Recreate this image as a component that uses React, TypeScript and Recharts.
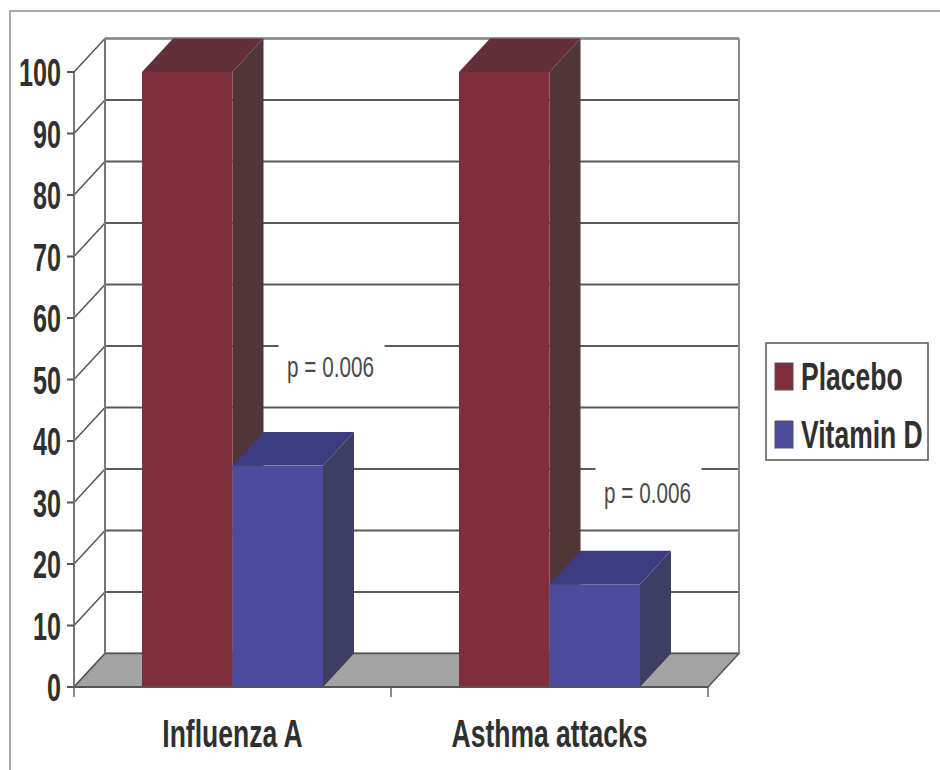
import React from 'react';
import {
  BarChart,
  Bar,
  XAxis,
  YAxis,
  CartesianGrid,
  Legend,
  ReferenceArea,
  ReferenceDot,
} from 'recharts';

const categories = ['Influenza A', 'Asthma attacks'];
const placeboValues = [100, 100];
const vitaminDValues = [36, 16.7];
const yTicks = [0, 10, 20, 30, 40, 50, 60, 70, 80, 90, 100];
const pLabels = ['p = 0.006', 'p = 0.006'];
const pLabelLevels = [52, 31.5];

const data = categories.map((category, i) => ({
  category,
  Placebo: placeboValues[i],
  'Vitamin D': vitaminDValues[i],
}));

// depth of the fake 3D box, in pixels
const DEPTH_X = 31;
const DEPTH_Y = -33.5;
const FONT = '"Liberation Sans", Arial, sans-serif';

// Text squeezed sideways, the narrow look the labels have
const NarrowText = ({ x, y, children, anchor = 'start', sx = 0.68, sy = 1, size = 39, weight = 'bold', fill = '#303030' }: any) => (
  <text
    transform={`translate(${x} ${y}) scale(${sx} ${sy})`}
    textAnchor={anchor}
    fontFamily={FONT}
    fontSize={size}
    fontWeight={weight}
    fill={fill}
  >
    {children}
  </text>
);

const YTick = ({ x, y, payload }: any) => (
  <NarrowText x={x - 4} y={y + 14} anchor="end" sx={0.645}>
    {payload.value}
  </NarrowText>
);

const XTick = ({ x, y, payload }: any) => (
  <NarrowText x={x} y={y + 52} anchor="middle">
    {payload.value}
  </NarrowText>
);

// Floor, back corners and the ticks between the categories
const Room = ({ x, y, width, height }: any) => {
  const bottom = y + height;
  const right = x + width;
  const floor = [
    [x, bottom],
    [x + DEPTH_X, bottom + DEPTH_Y],
    [right + DEPTH_X, bottom + DEPTH_Y],
    [right, bottom],
  ];
  return (
    <g>
      <polygon points={floor.join(' ')} fill="#a3a3a3" stroke="#555" strokeWidth={1.5} />
      <line x1={x + DEPTH_X} y1={y + DEPTH_Y} x2={right + DEPTH_X} y2={y + DEPTH_Y} stroke="#888" strokeWidth={2} />
      <line x1={x + DEPTH_X} y1={y + DEPTH_Y} x2={x + DEPTH_X} y2={bottom + DEPTH_Y} stroke="#777" strokeWidth={2} />
      <line x1={right + DEPTH_X} y1={y + DEPTH_Y} x2={right + DEPTH_X} y2={bottom + DEPTH_Y} stroke="#888" strokeWidth={2} />
      {[x, x + width / 2, right].map((tx) => (
        <line key={tx} x1={tx} y1={bottom} x2={tx} y2={bottom + 10} stroke="#666" strokeWidth={1.5} />
      ))}
    </g>
  );
};

// One gridline: the slanted part on the left wall, then across the back
const GridLine = ({ x1, y1, x2 }: any) => (
  <g>
    <line x1={x1} y1={y1} x2={x1 + DEPTH_X} y2={y1 + DEPTH_Y} stroke="#555" strokeWidth={1.5} />
    <line x1={x1 + DEPTH_X} y1={y1 + DEPTH_Y} x2={x2 + DEPTH_X} y2={y1 + DEPTH_Y} stroke="#5a5a5a" strokeWidth={2} />
  </g>
);

// Bar with a lit front and darker top and side faces
const Box = ({ x, y, width, height, front, top, side }: any) => {
  const topFace = [
    [x, y],
    [x + DEPTH_X, y + DEPTH_Y],
    [x + width + DEPTH_X, y + DEPTH_Y],
    [x + width, y],
  ];
  const sideFace = [
    [x + width, y],
    [x + width + DEPTH_X, y + DEPTH_Y],
    [x + width + DEPTH_X, y + height + DEPTH_Y],
    [x + width, y + height],
  ];
  return (
    <g>
      <polygon points={sideFace.join(' ')} fill={side} />
      <polygon points={topFace.join(' ')} fill={top} />
      <rect x={x} y={y} width={width} height={height} fill={front} />
    </g>
  );
};

// p value on a white patch that interrupts the gridline behind it
const PLabel = ({ cx, cy, text }: any) => (
  <g>
    <rect x={cx + 46} y={cy - 28} width={106} height={50} fill="#fff" />
    <NarrowText x={cx + 98} y={cy + 10} anchor="middle" size={30} sx={0.69} weight="normal" fill="#4a4a4a">
      {text}
    </NarrowText>
  </g>
);

const LegendBox = ({ payload }: any) => (
  <svg width={164} height={119} style={{ display: 'block' }}>
    <rect x={1} y={1} width={162} height={117} fill="#fff" stroke="#555" strokeWidth={1.5} />
    {(payload || []).map((entry: any, i: number) => (
      <g key={entry.value}>
        <rect x={10} y={21 + i * 58} width={18} height={27} fill={entry.color} stroke="#555" strokeWidth={1} />
        <NarrowText x={36} y={48 + i * 58}>
          {entry.value}
        </NarrowText>
      </g>
    ))}
  </svg>
);

const App = () => (
  <div style={{ position: 'absolute', left: 0, top: 0, width: 940, height: 770, background: '#fff', overflow: 'hidden' }}>
    <div
      style={{
        position: 'absolute',
        left: 9,
        top: 10,
        width: 940,
        height: 800,
        border: '2px solid #aaa',
        boxSizing: 'border-box',
      }}
    />
    <BarChart
      width={940}
      height={770}
      data={data}
      margin={{ top: 72, right: 232, bottom: 0, left: 0 }}
      barSize={90.5}
      barGap={0}
    >
      <CartesianGrid vertical={false} horizontal={(props: any) => <GridLine key={props.key} {...props} />} />
      <ReferenceArea y1={0} y2={100} shape={<Room />} />
      {categories.map((category, i) => (
        <ReferenceDot key={category} x={category} y={pLabelLevels[i]} r={0} shape={<PLabel text={pLabels[i]} />} />
      ))}
      <XAxis dataKey="category" height={83} tick={<XTick />} tickLine={false} axisLine={{ stroke: '#555', strokeWidth: 2 }} />
      <YAxis
        domain={[0, 100]}
        ticks={yTicks}
        width={74}
        tickSize={7}
        tick={<YTick />}
        tickLine={{ stroke: '#555', strokeWidth: 2 }}
        axisLine={{ stroke: '#777', strokeWidth: 2 }}
        interval={0}
      />
      <Legend
        layout="horizontal"
        verticalAlign="middle"
        content={<LegendBox />}
        wrapperStyle={{ left: 765, top: 342, width: 164, height: 119 }}
      />
      <Bar
        dataKey="Placebo"
        fill="#802d3c"
        isAnimationActive={false}
        shape={<Box front="#802d3c" top="#632f3b" side="#503539" />}
      />
      <Bar
        dataKey="Vitamin D"
        fill="#4b4a9c"
        isAnimationActive={false}
        shape={<Box front="#4b4a9c" top="#3d3c80" side="#3e3d62" />}
      />
    </BarChart>
  </div>
);

export default App;
